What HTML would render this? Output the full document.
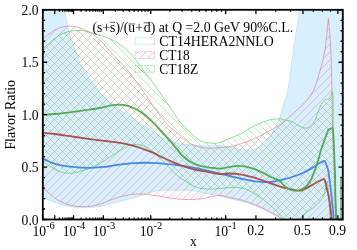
<!DOCTYPE html>
<html><head><meta charset="utf-8"><title>Flavor Ratio</title>
<style>
html,body{margin:0;padding:0;background:#fff;}
body{width:357px;height:250px;overflow:hidden;}
svg{display:block;}
text{font-family:"Liberation Serif",serif;fill:#000;}
</style></head><body>
<svg style="will-change:transform" width="357" height="250" viewBox="0 0 357 250">
<defs>
<filter id="nf" filterUnits="userSpaceOnUse" x="0" y="0" width="357" height="250"><feOffset dx="0" dy="0"/></filter>
<clipPath id="fr"><rect x="42.8" y="9.8" width="300" height="209.7"/></clipPath>
<pattern id="hp" width="8" height="8" patternUnits="userSpaceOnUse"><g fill="#f37f9b" fill-opacity="0.5" shape-rendering="crispEdges"><rect x="0" y="5" width="1" height="1"/><rect x="1" y="4" width="1" height="1"/><rect x="2" y="3" width="1" height="1"/><rect x="3" y="2" width="1" height="1"/><rect x="4" y="1" width="1" height="1"/><rect x="5" y="0" width="1" height="1"/><rect x="6" y="7" width="1" height="1"/><rect x="7" y="6" width="1" height="1"/></g></pattern>
<pattern id="hg" width="8" height="8" patternUnits="userSpaceOnUse"><g fill="#6bd971" fill-opacity="0.5" shape-rendering="crispEdges"><rect x="0" y="1" width="1" height="1"/><rect x="1" y="2" width="1" height="1"/><rect x="2" y="3" width="1" height="1"/><rect x="3" y="4" width="1" height="1"/><rect x="4" y="5" width="1" height="1"/><rect x="5" y="6" width="1" height="1"/><rect x="6" y="7" width="1" height="1"/><rect x="7" y="0" width="1" height="1"/></g></pattern>
<pattern id="hx" width="8" height="8" patternUnits="userSpaceOnUse"><g fill="#b8b08a" shape-rendering="crispEdges"><rect x="2" y="3" width="1" height="1"/><rect x="6" y="7" width="1" height="1"/></g></pattern>
<clipPath id="pc"><path d="M43.00,38.90 C44.18,37.95 47.80,34.85 50.10,33.20 C52.40,31.55 54.57,30.07 56.80,29.00 C59.03,27.93 61.40,27.27 63.50,26.80 C65.60,26.33 67.30,26.20 69.40,26.20 C71.50,26.20 73.72,26.25 76.10,26.80 C78.48,27.35 81.32,28.48 83.70,29.50 C86.08,30.52 87.68,31.15 90.40,32.90 C93.12,34.65 97.07,37.35 100.00,40.00 C102.93,42.65 105.50,46.03 108.00,48.80 C110.50,51.57 113.33,54.73 115.00,56.60 C116.67,58.47 115.92,57.77 118.00,60.00 C120.08,62.23 124.62,66.58 127.50,70.00 C130.38,73.42 133.08,77.50 135.30,80.50 C137.52,83.50 139.50,86.22 140.80,88.00 C142.10,89.78 141.73,89.23 143.10,91.20 C144.47,93.17 146.98,96.85 149.00,99.80 C151.02,102.75 153.03,105.93 155.20,108.90 C157.37,111.87 159.87,114.85 162.00,117.60 C164.13,120.35 165.60,122.98 168.00,125.40 C170.40,127.82 173.88,129.93 176.40,132.10 C178.92,134.27 181.00,136.65 183.10,138.40 C185.20,140.15 187.25,141.52 189.00,142.60 C190.75,143.68 191.43,144.10 193.60,144.90 C195.77,145.70 199.20,146.83 202.00,147.40 C204.80,147.97 207.40,148.27 210.40,148.30 C213.40,148.33 216.73,147.88 220.00,147.60 C223.27,147.32 226.63,147.18 230.00,146.60 C233.37,146.02 236.82,145.13 240.20,144.10 C243.58,143.07 247.22,141.67 250.30,140.40 C253.38,139.13 256.47,137.57 258.70,136.50 C260.93,135.43 261.48,135.17 263.70,134.00 C265.92,132.83 269.28,131.03 272.00,129.50 C274.72,127.97 277.83,126.30 280.00,124.80 C282.17,123.30 283.33,121.90 285.00,120.50 C286.67,119.10 287.77,118.35 290.00,116.40 C292.23,114.45 295.60,111.47 298.40,108.80 C301.20,106.13 304.42,103.20 306.80,100.40 C309.18,97.60 311.15,94.80 312.70,92.00 C314.25,89.20 314.70,87.80 316.10,83.60 C317.50,79.40 319.62,72.40 321.10,66.80 C322.58,61.20 324.02,55.80 325.00,50.00 C325.98,44.20 326.43,37.27 327.00,32.00 C327.57,26.73 328.17,20.67 328.40,18.40 L328.40,18.40 C328.63,21.00 329.40,28.73 329.80,34.00 C330.20,39.27 330.53,44.53 330.80,50.00 C331.07,55.47 331.20,59.80 331.40,66.80 C331.60,73.80 331.80,81.80 332.00,92.00 C332.20,102.20 332.40,118.33 332.60,128.00 C332.80,137.67 332.93,142.00 333.20,150.00 C333.47,158.00 333.93,167.67 334.20,176.00 C334.47,184.33 334.57,192.33 334.80,200.00 C335.03,207.67 335.47,218.33 335.60,222.00 L285.00,222.00 C284.17,221.23 282.43,219.05 280.00,217.40 C277.57,215.75 273.68,213.82 270.40,212.10 C267.12,210.38 263.65,208.63 260.30,207.10 C256.95,205.57 253.65,204.13 250.30,202.90 C246.95,201.67 243.58,200.60 240.20,199.70 C236.82,198.80 233.37,198.20 230.00,197.50 C226.63,196.80 223.27,195.58 220.00,195.50 C216.73,195.42 213.40,196.47 210.40,197.00 C207.40,197.53 204.80,198.28 202.00,198.70 C199.20,199.12 196.40,199.37 193.60,199.50 C190.80,199.63 188.00,199.58 185.20,199.50 C182.40,199.42 179.60,199.28 176.80,199.00 C174.00,198.72 171.20,198.25 168.40,197.80 C165.60,197.35 162.43,196.70 160.00,196.30 C157.57,195.90 156.23,195.73 153.80,195.40 C151.37,195.07 148.77,194.50 145.40,194.30 C142.03,194.10 137.00,193.98 133.60,194.20 C130.20,194.42 127.80,195.00 125.00,195.60 C122.20,196.20 119.63,196.90 116.80,197.80 C113.97,198.70 110.80,199.93 108.00,201.00 C105.20,202.07 102.93,203.32 100.00,204.20 C97.07,205.08 93.40,205.90 90.40,206.30 C87.40,206.70 84.80,206.67 82.00,206.60 C79.20,206.53 76.43,206.42 73.60,205.90 C70.77,205.38 67.80,204.57 65.00,203.50 C62.20,202.43 59.30,201.08 56.80,199.50 C54.30,197.92 52.30,195.92 50.00,194.00 C47.70,192.08 44.17,189.00 43.00,188.00 Z"/></clipPath>
</defs>
<rect width="357" height="250" fill="#fff"/>
<g clip-path="url(#fr)">
<path d="M59.70,-20.00 C60.25,-17.00 62.13,-7.17 63.00,-2.00 C63.87,3.17 64.23,6.67 64.90,11.00 C65.57,15.33 66.15,19.83 67.00,24.00 C67.85,28.17 68.83,32.17 70.00,36.00 C71.17,39.83 72.77,43.67 74.00,47.00 C75.23,50.33 76.37,53.17 77.40,56.00 C78.43,58.83 78.93,61.33 80.20,64.00 C81.47,66.67 83.30,69.42 85.00,72.00 C86.70,74.58 88.23,76.58 90.40,79.50 C92.57,82.42 96.40,87.33 98.00,89.50 C99.60,91.67 98.33,90.67 100.00,92.50 C101.67,94.33 105.20,98.07 108.00,100.50 C110.80,102.93 113.97,105.02 116.80,107.10 C119.63,109.18 122.20,111.03 125.00,113.00 C127.80,114.97 130.77,116.98 133.60,118.90 C136.43,120.82 139.20,122.68 142.00,124.50 C144.80,126.32 147.40,127.80 150.40,129.80 C153.40,131.80 157.07,134.72 160.00,136.50 C162.93,138.28 165.20,139.43 168.00,140.50 C170.80,141.57 173.97,142.23 176.80,142.90 C179.63,143.57 182.20,144.08 185.00,144.50 C187.80,144.92 190.77,145.17 193.60,145.40 C196.43,145.63 199.20,145.78 202.00,145.90 C204.80,146.02 207.40,146.15 210.40,146.10 C213.40,146.05 216.73,145.38 220.00,145.60 C223.27,145.82 226.63,146.75 230.00,147.40 C233.37,148.05 236.82,149.07 240.20,149.50 C243.58,149.93 247.50,150.20 250.30,150.00 C253.10,149.80 254.77,149.28 257.00,148.30 C259.23,147.32 261.75,145.78 263.70,144.10 C265.65,142.42 267.23,140.05 268.70,138.20 C270.17,136.35 271.28,135.03 272.50,133.00 C273.72,130.97 274.75,128.63 276.00,126.00 C277.25,123.37 278.67,121.03 280.00,117.20 C281.33,113.37 282.75,107.20 284.00,103.00 C285.25,98.80 286.42,97.17 287.50,92.00 C288.58,86.83 289.52,79.00 290.50,72.00 C291.48,65.00 292.40,57.00 293.40,50.00 C294.40,43.00 295.43,36.58 296.50,30.00 C297.57,23.42 298.88,16.33 299.80,10.50 C300.72,4.67 301.30,0.08 302.00,-5.00 C302.70,-10.08 303.67,-17.50 304.00,-20.00 L343,-20 L343,230 L285,230 L285.00,222.00 C284.17,221.37 282.43,219.73 280.00,218.20 C277.57,216.67 273.68,214.53 270.40,212.80 C267.12,211.07 263.65,209.28 260.30,207.80 C256.95,206.32 253.65,205.00 250.30,203.90 C246.95,202.80 243.58,202.07 240.20,201.20 C236.82,200.33 233.37,199.60 230.00,198.70 C226.63,197.80 223.27,196.55 220.00,195.80 C216.73,195.05 213.40,194.75 210.40,194.20 C207.40,193.65 204.80,193.07 202.00,192.50 C199.20,191.93 196.40,191.17 193.60,190.80 C190.80,190.43 188.00,190.42 185.20,190.30 C182.40,190.18 179.60,190.15 176.80,190.10 C174.00,190.05 171.20,189.98 168.40,190.00 C165.60,190.02 163.00,189.77 160.00,190.20 C157.00,190.63 153.12,191.88 150.40,192.60 C147.68,193.32 146.50,193.63 143.70,194.50 C140.90,195.37 136.72,196.90 133.60,197.80 C130.48,198.70 127.80,199.20 125.00,199.90 C122.20,200.60 119.63,201.25 116.80,202.00 C113.97,202.75 110.80,203.68 108.00,204.40 C105.20,205.12 102.93,205.77 100.00,206.30 C97.07,206.83 93.40,207.38 90.40,207.60 C87.40,207.82 84.80,207.70 82.00,207.60 C79.20,207.50 76.43,207.37 73.60,207.00 C70.77,206.63 67.80,206.08 65.00,205.40 C62.20,204.72 59.30,203.73 56.80,202.90 C54.30,202.07 52.30,201.30 50.00,200.40 C47.70,199.50 44.17,197.98 43.00,197.50 L43,-20 Z" fill="#d6f0fd" stroke="#bfe6f8" stroke-width="1"/>
<path d="M43.00,38.90 C44.18,37.95 47.80,34.85 50.10,33.20 C52.40,31.55 54.57,30.07 56.80,29.00 C59.03,27.93 61.40,27.27 63.50,26.80 C65.60,26.33 67.30,26.20 69.40,26.20 C71.50,26.20 73.72,26.25 76.10,26.80 C78.48,27.35 81.32,28.48 83.70,29.50 C86.08,30.52 87.68,31.15 90.40,32.90 C93.12,34.65 97.07,37.35 100.00,40.00 C102.93,42.65 105.50,46.03 108.00,48.80 C110.50,51.57 113.33,54.73 115.00,56.60 C116.67,58.47 115.92,57.77 118.00,60.00 C120.08,62.23 124.62,66.58 127.50,70.00 C130.38,73.42 133.08,77.50 135.30,80.50 C137.52,83.50 139.50,86.22 140.80,88.00 C142.10,89.78 141.73,89.23 143.10,91.20 C144.47,93.17 146.98,96.85 149.00,99.80 C151.02,102.75 153.03,105.93 155.20,108.90 C157.37,111.87 159.87,114.85 162.00,117.60 C164.13,120.35 165.60,122.98 168.00,125.40 C170.40,127.82 173.88,129.93 176.40,132.10 C178.92,134.27 181.00,136.65 183.10,138.40 C185.20,140.15 187.25,141.52 189.00,142.60 C190.75,143.68 191.43,144.10 193.60,144.90 C195.77,145.70 199.20,146.83 202.00,147.40 C204.80,147.97 207.40,148.27 210.40,148.30 C213.40,148.33 216.73,147.88 220.00,147.60 C223.27,147.32 226.63,147.18 230.00,146.60 C233.37,146.02 236.82,145.13 240.20,144.10 C243.58,143.07 247.22,141.67 250.30,140.40 C253.38,139.13 256.47,137.57 258.70,136.50 C260.93,135.43 261.48,135.17 263.70,134.00 C265.92,132.83 269.28,131.03 272.00,129.50 C274.72,127.97 277.83,126.30 280.00,124.80 C282.17,123.30 283.33,121.90 285.00,120.50 C286.67,119.10 287.77,118.35 290.00,116.40 C292.23,114.45 295.60,111.47 298.40,108.80 C301.20,106.13 304.42,103.20 306.80,100.40 C309.18,97.60 311.15,94.80 312.70,92.00 C314.25,89.20 314.70,87.80 316.10,83.60 C317.50,79.40 319.62,72.40 321.10,66.80 C322.58,61.20 324.02,55.80 325.00,50.00 C325.98,44.20 326.43,37.27 327.00,32.00 C327.57,26.73 328.17,20.67 328.40,18.40 L328.40,18.40 C328.63,21.00 329.40,28.73 329.80,34.00 C330.20,39.27 330.53,44.53 330.80,50.00 C331.07,55.47 331.20,59.80 331.40,66.80 C331.60,73.80 331.80,81.80 332.00,92.00 C332.20,102.20 332.40,118.33 332.60,128.00 C332.80,137.67 332.93,142.00 333.20,150.00 C333.47,158.00 333.93,167.67 334.20,176.00 C334.47,184.33 334.57,192.33 334.80,200.00 C335.03,207.67 335.47,218.33 335.60,222.00 L285.00,222.00 C284.17,221.23 282.43,219.05 280.00,217.40 C277.57,215.75 273.68,213.82 270.40,212.10 C267.12,210.38 263.65,208.63 260.30,207.10 C256.95,205.57 253.65,204.13 250.30,202.90 C246.95,201.67 243.58,200.60 240.20,199.70 C236.82,198.80 233.37,198.20 230.00,197.50 C226.63,196.80 223.27,195.58 220.00,195.50 C216.73,195.42 213.40,196.47 210.40,197.00 C207.40,197.53 204.80,198.28 202.00,198.70 C199.20,199.12 196.40,199.37 193.60,199.50 C190.80,199.63 188.00,199.58 185.20,199.50 C182.40,199.42 179.60,199.28 176.80,199.00 C174.00,198.72 171.20,198.25 168.40,197.80 C165.60,197.35 162.43,196.70 160.00,196.30 C157.57,195.90 156.23,195.73 153.80,195.40 C151.37,195.07 148.77,194.50 145.40,194.30 C142.03,194.10 137.00,193.98 133.60,194.20 C130.20,194.42 127.80,195.00 125.00,195.60 C122.20,196.20 119.63,196.90 116.80,197.80 C113.97,198.70 110.80,199.93 108.00,201.00 C105.20,202.07 102.93,203.32 100.00,204.20 C97.07,205.08 93.40,205.90 90.40,206.30 C87.40,206.70 84.80,206.67 82.00,206.60 C79.20,206.53 76.43,206.42 73.60,205.90 C70.77,205.38 67.80,204.57 65.00,203.50 C62.20,202.43 59.30,201.08 56.80,199.50 C54.30,197.92 52.30,195.92 50.00,194.00 C47.70,192.08 44.17,189.00 43.00,188.00 Z" fill="url(#hp)"/>
<path d="M43.00,38.90 C44.18,37.95 47.80,34.85 50.10,33.20 C52.40,31.55 54.57,30.07 56.80,29.00 C59.03,27.93 61.40,27.27 63.50,26.80 C65.60,26.33 67.30,26.20 69.40,26.20 C71.50,26.20 73.72,26.25 76.10,26.80 C78.48,27.35 81.32,28.48 83.70,29.50 C86.08,30.52 87.68,31.15 90.40,32.90 C93.12,34.65 97.07,37.35 100.00,40.00 C102.93,42.65 105.50,46.03 108.00,48.80 C110.50,51.57 113.33,54.73 115.00,56.60 C116.67,58.47 115.92,57.77 118.00,60.00 C120.08,62.23 124.62,66.58 127.50,70.00 C130.38,73.42 133.08,77.50 135.30,80.50 C137.52,83.50 139.50,86.22 140.80,88.00 C142.10,89.78 141.73,89.23 143.10,91.20 C144.47,93.17 146.98,96.85 149.00,99.80 C151.02,102.75 153.03,105.93 155.20,108.90 C157.37,111.87 159.87,114.85 162.00,117.60 C164.13,120.35 165.60,122.98 168.00,125.40 C170.40,127.82 173.88,129.93 176.40,132.10 C178.92,134.27 181.00,136.65 183.10,138.40 C185.20,140.15 187.25,141.52 189.00,142.60 C190.75,143.68 191.43,144.10 193.60,144.90 C195.77,145.70 199.20,146.83 202.00,147.40 C204.80,147.97 207.40,148.27 210.40,148.30 C213.40,148.33 216.73,147.88 220.00,147.60 C223.27,147.32 226.63,147.18 230.00,146.60 C233.37,146.02 236.82,145.13 240.20,144.10 C243.58,143.07 247.22,141.67 250.30,140.40 C253.38,139.13 256.47,137.57 258.70,136.50 C260.93,135.43 261.48,135.17 263.70,134.00 C265.92,132.83 269.28,131.03 272.00,129.50 C274.72,127.97 277.83,126.30 280.00,124.80 C282.17,123.30 283.33,121.90 285.00,120.50 C286.67,119.10 287.77,118.35 290.00,116.40 C292.23,114.45 295.60,111.47 298.40,108.80 C301.20,106.13 304.42,103.20 306.80,100.40 C309.18,97.60 311.15,94.80 312.70,92.00 C314.25,89.20 314.70,87.80 316.10,83.60 C317.50,79.40 319.62,72.40 321.10,66.80 C322.58,61.20 324.02,55.80 325.00,50.00 C325.98,44.20 326.43,37.27 327.00,32.00 C327.57,26.73 328.17,20.67 328.40,18.40 L328.40,18.40 C328.63,21.00 329.40,28.73 329.80,34.00 C330.20,39.27 330.53,44.53 330.80,50.00 C331.07,55.47 331.20,59.80 331.40,66.80 C331.60,73.80 331.80,81.80 332.00,92.00 C332.20,102.20 332.40,118.33 332.60,128.00 C332.80,137.67 332.93,142.00 333.20,150.00 C333.47,158.00 333.93,167.67 334.20,176.00 C334.47,184.33 334.57,192.33 334.80,200.00 C335.03,207.67 335.47,218.33 335.60,222.00 L285.00,222.00 C284.17,221.23 282.43,219.05 280.00,217.40 C277.57,215.75 273.68,213.82 270.40,212.10 C267.12,210.38 263.65,208.63 260.30,207.10 C256.95,205.57 253.65,204.13 250.30,202.90 C246.95,201.67 243.58,200.60 240.20,199.70 C236.82,198.80 233.37,198.20 230.00,197.50 C226.63,196.80 223.27,195.58 220.00,195.50 C216.73,195.42 213.40,196.47 210.40,197.00 C207.40,197.53 204.80,198.28 202.00,198.70 C199.20,199.12 196.40,199.37 193.60,199.50 C190.80,199.63 188.00,199.58 185.20,199.50 C182.40,199.42 179.60,199.28 176.80,199.00 C174.00,198.72 171.20,198.25 168.40,197.80 C165.60,197.35 162.43,196.70 160.00,196.30 C157.57,195.90 156.23,195.73 153.80,195.40 C151.37,195.07 148.77,194.50 145.40,194.30 C142.03,194.10 137.00,193.98 133.60,194.20 C130.20,194.42 127.80,195.00 125.00,195.60 C122.20,196.20 119.63,196.90 116.80,197.80 C113.97,198.70 110.80,199.93 108.00,201.00 C105.20,202.07 102.93,203.32 100.00,204.20 C97.07,205.08 93.40,205.90 90.40,206.30 C87.40,206.70 84.80,206.67 82.00,206.60 C79.20,206.53 76.43,206.42 73.60,205.90 C70.77,205.38 67.80,204.57 65.00,203.50 C62.20,202.43 59.30,201.08 56.80,199.50 C54.30,197.92 52.30,195.92 50.00,194.00 C47.70,192.08 44.17,189.00 43.00,188.00 Z" fill="none" stroke="#ed6185" stroke-opacity="0.6" stroke-width="0.95"/>
<path d="M43.00,49.00 C44.18,47.92 47.80,44.52 50.10,42.50 C52.40,40.48 54.57,38.45 56.80,36.90 C59.03,35.35 61.25,34.15 63.50,33.20 C65.75,32.25 67.92,31.67 70.30,31.20 C72.68,30.73 75.28,30.43 77.80,30.40 C80.32,30.37 83.02,30.58 85.40,31.00 C87.78,31.42 89.67,32.20 92.10,32.90 C94.53,33.60 97.68,34.47 100.00,35.20 C102.32,35.93 103.97,36.50 106.00,37.30 C108.03,38.10 110.37,39.12 112.20,40.00 C114.03,40.88 115.50,41.70 117.00,42.60 C118.50,43.50 119.87,44.45 121.20,45.40 C122.53,46.35 123.87,47.33 125.00,48.30 C126.13,49.27 126.67,49.83 128.00,51.20 C129.33,52.57 131.33,54.60 133.00,56.50 C134.67,58.40 136.32,60.35 138.00,62.60 C139.68,64.85 141.27,67.53 143.10,70.00 C144.93,72.47 146.93,74.73 149.00,77.40 C151.07,80.07 153.17,82.73 155.50,86.00 C157.83,89.27 160.85,93.83 163.00,97.00 C165.15,100.17 166.40,102.08 168.40,105.00 C170.40,107.92 173.10,111.67 175.00,114.50 C176.90,117.33 177.75,119.48 179.80,122.00 C181.85,124.52 185.07,127.37 187.30,129.60 C189.53,131.83 191.42,133.80 193.20,135.40 C194.98,137.00 195.97,138.03 198.00,139.20 C200.03,140.37 202.77,141.73 205.40,142.40 C208.03,143.07 211.37,143.20 213.80,143.20 C216.23,143.20 217.30,143.23 220.00,142.40 C222.70,141.57 226.63,139.60 230.00,138.20 C233.37,136.80 236.82,135.68 240.20,134.00 C243.58,132.32 246.95,129.92 250.30,128.10 C253.65,126.28 256.95,124.50 260.30,123.10 C263.65,121.70 267.12,120.40 270.40,119.70 C273.68,119.00 277.57,118.82 280.00,118.90 C282.43,118.98 283.05,119.78 285.00,120.20 C286.95,120.62 289.47,120.50 291.70,121.40 C293.93,122.30 296.15,124.48 298.40,125.60 C300.65,126.72 303.23,127.95 305.20,128.10 C307.17,128.25 308.52,127.90 310.20,126.50 C311.88,125.10 313.90,122.37 315.30,119.70 C316.70,117.03 317.48,113.30 318.60,110.50 C319.72,107.70 320.88,104.72 322.00,102.90 C323.12,101.08 324.13,100.23 325.30,99.60 C326.47,98.97 328.10,99.80 329.00,99.10 C329.90,98.40 330.18,96.55 330.70,95.40 C331.22,94.25 331.87,92.73 332.10,92.20 L332.10,92.20 C332.25,92.83 332.82,93.03 333.00,96.00 C333.18,98.97 333.17,104.67 333.20,110.00 C333.23,115.33 333.17,124.00 333.20,128.00 C333.23,132.00 333.25,130.20 333.40,134.00 C333.55,137.80 333.82,143.80 334.10,150.80 C334.38,157.80 334.90,168.97 335.10,176.00 C335.30,183.03 335.08,185.33 335.30,193.00 C335.52,200.67 336.22,217.17 336.40,222.00 L330.30,222.00 C330.28,221.33 330.38,220.83 330.20,218.00 C330.02,215.17 329.50,209.17 329.20,205.00 C328.90,200.83 328.63,196.33 328.40,193.00 C328.17,189.67 328.03,187.00 327.80,185.00 C327.57,183.00 327.13,181.67 327.00,181.00 L327.00,181.00 C326.83,181.85 326.42,184.10 326.00,186.10 C325.58,188.10 325.20,190.92 324.50,193.00 C323.80,195.08 323.18,196.55 321.80,198.60 C320.42,200.65 317.83,203.65 316.20,205.30 C314.57,206.95 313.57,207.37 312.00,208.50 C310.43,209.63 308.50,210.60 306.80,212.10 C305.10,213.60 303.27,215.85 301.80,217.50 C300.33,219.15 298.63,221.25 298.00,222.00 L286.00,222.00 C285.00,220.78 282.03,216.90 280.00,214.70 C277.97,212.50 276.23,211.05 273.80,208.80 C271.37,206.55 268.20,203.45 265.40,201.20 C262.60,198.95 259.80,197.12 257.00,195.30 C254.20,193.48 251.40,191.55 248.60,190.30 C245.80,189.05 243.30,188.28 240.20,187.80 C237.10,187.32 233.37,187.27 230.00,187.40 C226.63,187.53 223.27,188.32 220.00,188.60 C216.73,188.88 213.40,189.10 210.40,189.10 C207.40,189.10 204.80,189.10 202.00,188.60 C199.20,188.10 196.40,187.37 193.60,186.10 C190.80,184.83 187.72,182.60 185.20,181.00 C182.68,179.40 180.17,177.73 178.50,176.50 C176.83,175.27 176.58,174.92 175.20,173.60 C173.82,172.28 172.17,170.57 170.20,168.60 C168.23,166.63 165.60,164.07 163.40,161.80 C161.20,159.53 159.17,157.03 157.00,155.00 C154.83,152.97 152.73,151.13 150.40,149.60 C148.07,148.07 145.23,146.67 143.00,145.80 C140.77,144.93 139.40,144.40 137.00,144.40 C134.60,144.40 131.97,144.45 128.60,145.80 C125.23,147.15 120.67,150.12 116.80,152.50 C112.93,154.88 109.27,157.72 105.40,160.10 C101.53,162.48 97.53,164.98 93.60,166.80 C89.67,168.62 85.73,169.93 81.80,171.00 C77.87,172.07 73.63,173.07 70.00,173.20 C66.37,173.33 63.33,172.92 60.00,171.80 C56.67,170.68 52.83,168.30 50.00,166.50 C47.17,164.70 44.17,161.92 43.00,161.00 Z" fill="url(#hg)"/>
<path d="M43.00,49.00 C44.18,47.92 47.80,44.52 50.10,42.50 C52.40,40.48 54.57,38.45 56.80,36.90 C59.03,35.35 61.25,34.15 63.50,33.20 C65.75,32.25 67.92,31.67 70.30,31.20 C72.68,30.73 75.28,30.43 77.80,30.40 C80.32,30.37 83.02,30.58 85.40,31.00 C87.78,31.42 89.67,32.20 92.10,32.90 C94.53,33.60 97.68,34.47 100.00,35.20 C102.32,35.93 103.97,36.50 106.00,37.30 C108.03,38.10 110.37,39.12 112.20,40.00 C114.03,40.88 115.50,41.70 117.00,42.60 C118.50,43.50 119.87,44.45 121.20,45.40 C122.53,46.35 123.87,47.33 125.00,48.30 C126.13,49.27 126.67,49.83 128.00,51.20 C129.33,52.57 131.33,54.60 133.00,56.50 C134.67,58.40 136.32,60.35 138.00,62.60 C139.68,64.85 141.27,67.53 143.10,70.00 C144.93,72.47 146.93,74.73 149.00,77.40 C151.07,80.07 153.17,82.73 155.50,86.00 C157.83,89.27 160.85,93.83 163.00,97.00 C165.15,100.17 166.40,102.08 168.40,105.00 C170.40,107.92 173.10,111.67 175.00,114.50 C176.90,117.33 177.75,119.48 179.80,122.00 C181.85,124.52 185.07,127.37 187.30,129.60 C189.53,131.83 191.42,133.80 193.20,135.40 C194.98,137.00 195.97,138.03 198.00,139.20 C200.03,140.37 202.77,141.73 205.40,142.40 C208.03,143.07 211.37,143.20 213.80,143.20 C216.23,143.20 217.30,143.23 220.00,142.40 C222.70,141.57 226.63,139.60 230.00,138.20 C233.37,136.80 236.82,135.68 240.20,134.00 C243.58,132.32 246.95,129.92 250.30,128.10 C253.65,126.28 256.95,124.50 260.30,123.10 C263.65,121.70 267.12,120.40 270.40,119.70 C273.68,119.00 277.57,118.82 280.00,118.90 C282.43,118.98 283.05,119.78 285.00,120.20 C286.95,120.62 289.47,120.50 291.70,121.40 C293.93,122.30 296.15,124.48 298.40,125.60 C300.65,126.72 303.23,127.95 305.20,128.10 C307.17,128.25 308.52,127.90 310.20,126.50 C311.88,125.10 313.90,122.37 315.30,119.70 C316.70,117.03 317.48,113.30 318.60,110.50 C319.72,107.70 320.88,104.72 322.00,102.90 C323.12,101.08 324.13,100.23 325.30,99.60 C326.47,98.97 328.10,99.80 329.00,99.10 C329.90,98.40 330.18,96.55 330.70,95.40 C331.22,94.25 331.87,92.73 332.10,92.20 L332.10,92.20 C332.25,92.83 332.82,93.03 333.00,96.00 C333.18,98.97 333.17,104.67 333.20,110.00 C333.23,115.33 333.17,124.00 333.20,128.00 C333.23,132.00 333.25,130.20 333.40,134.00 C333.55,137.80 333.82,143.80 334.10,150.80 C334.38,157.80 334.90,168.97 335.10,176.00 C335.30,183.03 335.08,185.33 335.30,193.00 C335.52,200.67 336.22,217.17 336.40,222.00 L330.30,222.00 C330.28,221.33 330.38,220.83 330.20,218.00 C330.02,215.17 329.50,209.17 329.20,205.00 C328.90,200.83 328.63,196.33 328.40,193.00 C328.17,189.67 328.03,187.00 327.80,185.00 C327.57,183.00 327.13,181.67 327.00,181.00 L327.00,181.00 C326.83,181.85 326.42,184.10 326.00,186.10 C325.58,188.10 325.20,190.92 324.50,193.00 C323.80,195.08 323.18,196.55 321.80,198.60 C320.42,200.65 317.83,203.65 316.20,205.30 C314.57,206.95 313.57,207.37 312.00,208.50 C310.43,209.63 308.50,210.60 306.80,212.10 C305.10,213.60 303.27,215.85 301.80,217.50 C300.33,219.15 298.63,221.25 298.00,222.00 L286.00,222.00 C285.00,220.78 282.03,216.90 280.00,214.70 C277.97,212.50 276.23,211.05 273.80,208.80 C271.37,206.55 268.20,203.45 265.40,201.20 C262.60,198.95 259.80,197.12 257.00,195.30 C254.20,193.48 251.40,191.55 248.60,190.30 C245.80,189.05 243.30,188.28 240.20,187.80 C237.10,187.32 233.37,187.27 230.00,187.40 C226.63,187.53 223.27,188.32 220.00,188.60 C216.73,188.88 213.40,189.10 210.40,189.10 C207.40,189.10 204.80,189.10 202.00,188.60 C199.20,188.10 196.40,187.37 193.60,186.10 C190.80,184.83 187.72,182.60 185.20,181.00 C182.68,179.40 180.17,177.73 178.50,176.50 C176.83,175.27 176.58,174.92 175.20,173.60 C173.82,172.28 172.17,170.57 170.20,168.60 C168.23,166.63 165.60,164.07 163.40,161.80 C161.20,159.53 159.17,157.03 157.00,155.00 C154.83,152.97 152.73,151.13 150.40,149.60 C148.07,148.07 145.23,146.67 143.00,145.80 C140.77,144.93 139.40,144.40 137.00,144.40 C134.60,144.40 131.97,144.45 128.60,145.80 C125.23,147.15 120.67,150.12 116.80,152.50 C112.93,154.88 109.27,157.72 105.40,160.10 C101.53,162.48 97.53,164.98 93.60,166.80 C89.67,168.62 85.73,169.93 81.80,171.00 C77.87,172.07 73.63,173.07 70.00,173.20 C66.37,173.33 63.33,172.92 60.00,171.80 C56.67,170.68 52.83,168.30 50.00,166.50 C47.17,164.70 44.17,161.92 43.00,161.00 Z" fill="none" stroke="#3fc543" stroke-opacity="0.6" stroke-width="0.95"/>
<g clip-path="url(#pc)"><path d="M43.00,49.00 C44.18,47.92 47.80,44.52 50.10,42.50 C52.40,40.48 54.57,38.45 56.80,36.90 C59.03,35.35 61.25,34.15 63.50,33.20 C65.75,32.25 67.92,31.67 70.30,31.20 C72.68,30.73 75.28,30.43 77.80,30.40 C80.32,30.37 83.02,30.58 85.40,31.00 C87.78,31.42 89.67,32.20 92.10,32.90 C94.53,33.60 97.68,34.47 100.00,35.20 C102.32,35.93 103.97,36.50 106.00,37.30 C108.03,38.10 110.37,39.12 112.20,40.00 C114.03,40.88 115.50,41.70 117.00,42.60 C118.50,43.50 119.87,44.45 121.20,45.40 C122.53,46.35 123.87,47.33 125.00,48.30 C126.13,49.27 126.67,49.83 128.00,51.20 C129.33,52.57 131.33,54.60 133.00,56.50 C134.67,58.40 136.32,60.35 138.00,62.60 C139.68,64.85 141.27,67.53 143.10,70.00 C144.93,72.47 146.93,74.73 149.00,77.40 C151.07,80.07 153.17,82.73 155.50,86.00 C157.83,89.27 160.85,93.83 163.00,97.00 C165.15,100.17 166.40,102.08 168.40,105.00 C170.40,107.92 173.10,111.67 175.00,114.50 C176.90,117.33 177.75,119.48 179.80,122.00 C181.85,124.52 185.07,127.37 187.30,129.60 C189.53,131.83 191.42,133.80 193.20,135.40 C194.98,137.00 195.97,138.03 198.00,139.20 C200.03,140.37 202.77,141.73 205.40,142.40 C208.03,143.07 211.37,143.20 213.80,143.20 C216.23,143.20 217.30,143.23 220.00,142.40 C222.70,141.57 226.63,139.60 230.00,138.20 C233.37,136.80 236.82,135.68 240.20,134.00 C243.58,132.32 246.95,129.92 250.30,128.10 C253.65,126.28 256.95,124.50 260.30,123.10 C263.65,121.70 267.12,120.40 270.40,119.70 C273.68,119.00 277.57,118.82 280.00,118.90 C282.43,118.98 283.05,119.78 285.00,120.20 C286.95,120.62 289.47,120.50 291.70,121.40 C293.93,122.30 296.15,124.48 298.40,125.60 C300.65,126.72 303.23,127.95 305.20,128.10 C307.17,128.25 308.52,127.90 310.20,126.50 C311.88,125.10 313.90,122.37 315.30,119.70 C316.70,117.03 317.48,113.30 318.60,110.50 C319.72,107.70 320.88,104.72 322.00,102.90 C323.12,101.08 324.13,100.23 325.30,99.60 C326.47,98.97 328.10,99.80 329.00,99.10 C329.90,98.40 330.18,96.55 330.70,95.40 C331.22,94.25 331.87,92.73 332.10,92.20 L332.10,92.20 C332.25,92.83 332.82,93.03 333.00,96.00 C333.18,98.97 333.17,104.67 333.20,110.00 C333.23,115.33 333.17,124.00 333.20,128.00 C333.23,132.00 333.25,130.20 333.40,134.00 C333.55,137.80 333.82,143.80 334.10,150.80 C334.38,157.80 334.90,168.97 335.10,176.00 C335.30,183.03 335.08,185.33 335.30,193.00 C335.52,200.67 336.22,217.17 336.40,222.00 L330.30,222.00 C330.28,221.33 330.38,220.83 330.20,218.00 C330.02,215.17 329.50,209.17 329.20,205.00 C328.90,200.83 328.63,196.33 328.40,193.00 C328.17,189.67 328.03,187.00 327.80,185.00 C327.57,183.00 327.13,181.67 327.00,181.00 L327.00,181.00 C326.83,181.85 326.42,184.10 326.00,186.10 C325.58,188.10 325.20,190.92 324.50,193.00 C323.80,195.08 323.18,196.55 321.80,198.60 C320.42,200.65 317.83,203.65 316.20,205.30 C314.57,206.95 313.57,207.37 312.00,208.50 C310.43,209.63 308.50,210.60 306.80,212.10 C305.10,213.60 303.27,215.85 301.80,217.50 C300.33,219.15 298.63,221.25 298.00,222.00 L286.00,222.00 C285.00,220.78 282.03,216.90 280.00,214.70 C277.97,212.50 276.23,211.05 273.80,208.80 C271.37,206.55 268.20,203.45 265.40,201.20 C262.60,198.95 259.80,197.12 257.00,195.30 C254.20,193.48 251.40,191.55 248.60,190.30 C245.80,189.05 243.30,188.28 240.20,187.80 C237.10,187.32 233.37,187.27 230.00,187.40 C226.63,187.53 223.27,188.32 220.00,188.60 C216.73,188.88 213.40,189.10 210.40,189.10 C207.40,189.10 204.80,189.10 202.00,188.60 C199.20,188.10 196.40,187.37 193.60,186.10 C190.80,184.83 187.72,182.60 185.20,181.00 C182.68,179.40 180.17,177.73 178.50,176.50 C176.83,175.27 176.58,174.92 175.20,173.60 C173.82,172.28 172.17,170.57 170.20,168.60 C168.23,166.63 165.60,164.07 163.40,161.80 C161.20,159.53 159.17,157.03 157.00,155.00 C154.83,152.97 152.73,151.13 150.40,149.60 C148.07,148.07 145.23,146.67 143.00,145.80 C140.77,144.93 139.40,144.40 137.00,144.40 C134.60,144.40 131.97,144.45 128.60,145.80 C125.23,147.15 120.67,150.12 116.80,152.50 C112.93,154.88 109.27,157.72 105.40,160.10 C101.53,162.48 97.53,164.98 93.60,166.80 C89.67,168.62 85.73,169.93 81.80,171.00 C77.87,172.07 73.63,173.07 70.00,173.20 C66.37,173.33 63.33,172.92 60.00,171.80 C56.67,170.68 52.83,168.30 50.00,166.50 C47.17,164.70 44.17,161.92 43.00,161.00 Z" fill="url(#hx)"/></g>
<g fill="none" stroke-linejoin="round" stroke-linecap="round">
<path d="M43.00,158.70 C44.17,159.25 47.17,160.93 50.00,162.00 C52.83,163.07 55.53,164.20 60.00,165.10 C64.47,166.00 71.75,166.95 76.80,167.40 C81.85,167.85 85.53,167.88 90.30,167.80 C95.07,167.72 100.98,167.38 105.40,166.90 C109.82,166.42 112.10,165.53 116.80,164.90 C121.50,164.27 128.00,163.45 133.60,163.10 C139.20,162.75 146.00,162.75 150.40,162.80 C154.80,162.85 155.60,163.02 160.00,163.40 C164.40,163.78 171.20,164.40 176.80,165.10 C182.40,165.80 188.00,166.57 193.60,167.60 C199.20,168.63 206.00,170.30 210.40,171.30 C214.80,172.30 216.73,172.82 220.00,173.60 C223.27,174.38 226.63,175.18 230.00,176.00 C233.37,176.82 236.82,177.72 240.20,178.50 C243.58,179.28 246.95,180.13 250.30,180.70 C253.65,181.27 256.95,181.70 260.30,181.90 C263.65,182.10 267.12,182.18 270.40,181.90 C273.68,181.62 277.57,180.68 280.00,180.20 C282.43,179.72 282.20,179.78 285.00,179.00 C287.80,178.22 293.43,176.70 296.80,175.50 C300.17,174.30 302.12,173.40 305.20,171.80 C308.28,170.20 312.67,167.48 315.30,165.90 C317.93,164.32 319.50,163.12 321.00,162.30 C322.50,161.48 323.53,160.92 324.30,161.00 C325.07,161.08 325.00,161.47 325.60,162.80 C326.20,164.13 327.33,166.80 327.90,169.00 C328.47,171.20 328.45,172.03 329.00,176.00 C329.55,179.97 330.55,187.20 331.20,192.80 C331.85,198.40 332.45,204.73 332.90,209.60 C333.35,214.47 333.73,219.93 333.90,222.00" stroke="#4a88e4" stroke-width="1.8"/>
<path d="M43.00,132.60 C45.00,132.83 50.50,133.40 55.00,134.00 C59.50,134.60 65.00,135.47 70.00,136.20 C75.00,136.93 80.00,137.70 85.00,138.40 C90.00,139.10 94.70,139.73 100.00,140.40 C105.30,141.07 111.20,141.50 116.80,142.40 C122.40,143.30 128.00,144.27 133.60,145.80 C139.20,147.33 146.00,149.87 150.40,151.60 C154.80,153.33 156.73,154.65 160.00,156.20 C163.27,157.75 166.63,159.42 170.00,160.90 C173.37,162.38 176.27,163.70 180.20,165.10 C184.13,166.50 189.13,168.18 193.60,169.30 C198.07,170.42 202.60,171.02 207.00,171.80 C211.40,172.58 216.17,173.72 220.00,174.00 C223.83,174.28 226.67,173.45 230.00,173.50 C233.33,173.55 236.90,173.85 240.00,174.30 C243.10,174.75 245.48,175.42 248.60,176.20 C251.72,176.98 255.35,177.92 258.70,179.00 C262.05,180.08 265.15,181.43 268.70,182.70 C272.25,183.97 277.28,185.73 280.00,186.60 C282.72,187.47 282.50,187.32 285.00,187.90 C287.50,188.48 292.20,189.70 295.00,190.10 C297.80,190.50 299.27,190.97 301.80,190.30 C304.33,189.63 307.40,187.60 310.20,186.10 C313.00,184.60 316.55,182.40 318.60,181.30 C320.65,180.20 321.55,179.83 322.50,179.50 C323.45,179.17 323.85,178.97 324.30,179.30 C324.75,179.63 324.75,179.88 325.20,181.50 C325.65,183.12 326.28,185.72 327.00,189.00 C327.72,192.28 328.67,195.70 329.50,201.20 C330.33,206.70 331.58,218.53 332.00,222.00" stroke="#a85252" stroke-width="1.8"/>
<path d="M43.00,114.90 C45.00,114.75 50.50,114.43 55.00,114.00 C59.50,113.57 65.00,112.93 70.00,112.30 C75.00,111.67 80.00,110.92 85.00,110.20 C90.00,109.48 95.83,108.75 100.00,108.00 C104.17,107.25 106.92,106.27 110.00,105.70 C113.08,105.13 115.83,104.67 118.50,104.60 C121.17,104.53 123.48,104.73 126.00,105.30 C128.52,105.87 131.27,106.97 133.60,108.00 C135.93,109.03 138.03,110.25 140.00,111.50 C141.97,112.75 143.10,113.57 145.40,115.50 C147.70,117.43 151.37,120.72 153.80,123.10 C156.23,125.48 158.13,127.73 160.00,129.80 C161.87,131.87 162.77,132.98 165.00,135.50 C167.23,138.02 170.60,141.65 173.40,144.90 C176.20,148.15 178.98,152.20 181.80,155.00 C184.62,157.80 187.22,159.88 190.30,161.70 C193.38,163.52 196.95,164.92 200.30,165.90 C203.65,166.88 207.12,167.15 210.40,167.60 C213.68,168.05 216.73,168.73 220.00,168.60 C223.27,168.47 226.92,167.25 230.00,166.80 C233.08,166.35 235.67,165.90 238.50,165.90 C241.33,165.90 244.20,166.23 247.00,166.80 C249.80,167.37 252.52,168.27 255.30,169.30 C258.08,170.33 261.47,171.88 263.70,173.00 C265.93,174.12 266.73,175.03 268.70,176.00 C270.67,176.97 273.62,177.97 275.50,178.80 C277.38,179.63 278.42,179.72 280.00,181.00 C281.58,182.28 283.05,184.98 285.00,186.50 C286.95,188.02 289.47,189.47 291.70,190.10 C293.93,190.73 296.15,190.78 298.40,190.30 C300.65,189.82 303.23,188.75 305.20,187.20 C307.17,185.65 308.95,182.87 310.20,181.00 C311.45,179.13 311.58,178.78 312.70,176.00 C313.82,173.22 315.58,168.38 316.90,164.30 C318.22,160.22 319.40,155.38 320.60,151.50 C321.80,147.62 323.52,142.75 324.10,141.00 L328.3,129.7 L332.7,127.9 L333.40,134.00 C333.52,136.80 333.82,143.80 334.10,150.80 C334.38,157.80 334.90,168.97 335.10,176.00 C335.30,183.03 335.08,185.33 335.30,193.00 C335.52,200.67 336.22,217.17 336.40,222.00" stroke="#55ab55" stroke-width="1.8"/>
<path d="M341.00,222.00 C341.00,217.50 341.00,202.50 341.00,195.00 C341.00,187.50 341.00,180.00 341.00,177.00" stroke="#4fa84f" stroke-width="1.3"/>
</g>
</g>
<!-- legend -->
<rect x="135.1" y="37.7" width="19.4" height="6.6" fill="#fff" stroke="#cdeafb" stroke-width="1"/>
<rect x="135.0" y="51.7" width="19.5" height="6.7" fill="url(#hp)" stroke="#f7aec0" stroke-width="0.85" stroke-dasharray="2,1"/>
<rect x="135.0" y="65.6" width="19.5" height="6.7" fill="url(#hg)" stroke="#a2e2a4" stroke-width="0.85" stroke-dasharray="2,1"/>
<g filter="url(#nf)">
<text x="159.3" y="45.5" font-size="13.6" textLength="114.4" lengthAdjust="spacingAndGlyphs">CT14HERA2NNLO</text>
<text x="159.3" y="59.5" font-size="13.6" textLength="30.4" lengthAdjust="spacingAndGlyphs">CT18</text>
<text x="159.3" y="73.5" font-size="13.6" textLength="39.0" lengthAdjust="spacingAndGlyphs">CT18Z</text>
<!-- title -->
<text x="92.5" y="31.7" font-size="13.6" textLength="50.4" lengthAdjust="spacingAndGlyphs">(s+s)/(u+</text>
<text x="143.8" y="31.7" font-size="13.6" textLength="149.3" lengthAdjust="spacingAndGlyphs">d) at Q =2.0 GeV 90%C.L.</text>
<g stroke="#222" stroke-width="0.7">
<path d="M110,22.3 h5.2 M128.4,24.0 h6.9 M143.7,22.8 h6.8"/>
</g>
</g>
<!-- frame -->
<g stroke="#000" stroke-width="1.3" fill="none">
<path d="M42.80,219.50 v-4.2 M42.80,9.80 v4.2"/>
<path d="M54.69,219.50 v-4.2 M54.69,9.80 v4.2"/>
<path d="M73.53,219.50 v-4.2 M73.53,9.80 v4.2"/>
<path d="M103.38,219.50 v-4.2 M103.38,9.80 v4.2"/>
<path d="M150.71,219.50 v-4.2 M150.71,9.80 v4.2"/>
<path d="M225.71,219.50 v-4.2 M225.71,9.80 v4.2"/>
<path d="M255.93,219.50 v-4.2 M255.93,9.80 v4.2"/>
<path d="M302.88,219.50 v-4.2 M302.88,9.80 v4.2"/>
<path d="M337.86,219.50 v-4.2 M337.86,9.80 v4.2"/>
<path d="M59.48,219.50 v-2.0 M59.48,9.80 v2.0"/>
<path d="M62.60,219.50 v-2.0 M62.60,9.80 v2.0"/>
<path d="M64.98,219.50 v-2.0 M64.98,9.80 v2.0"/>
<path d="M66.92,219.50 v-2.0 M66.92,9.80 v2.0"/>
<path d="M68.57,219.50 v-2.0 M68.57,9.80 v2.0"/>
<path d="M70.01,219.50 v-2.0 M70.01,9.80 v2.0"/>
<path d="M71.30,219.50 v-2.0 M71.30,9.80 v2.0"/>
<path d="M72.46,219.50 v-2.0 M72.46,9.80 v2.0"/>
<path d="M81.12,219.50 v-2.0 M81.12,9.80 v2.0"/>
<path d="M86.07,219.50 v-2.0 M86.07,9.80 v2.0"/>
<path d="M89.84,219.50 v-2.0 M89.84,9.80 v2.0"/>
<path d="M92.91,219.50 v-2.0 M92.91,9.80 v2.0"/>
<path d="M95.53,219.50 v-2.0 M95.53,9.80 v2.0"/>
<path d="M97.81,219.50 v-2.0 M97.81,9.80 v2.0"/>
<path d="M99.85,219.50 v-2.0 M99.85,9.80 v2.0"/>
<path d="M101.70,219.50 v-2.0 M101.70,9.80 v2.0"/>
<path d="M115.42,219.50 v-2.0 M115.42,9.80 v2.0"/>
<path d="M123.27,219.50 v-2.0 M123.27,9.80 v2.0"/>
<path d="M129.24,219.50 v-2.0 M129.24,9.80 v2.0"/>
<path d="M134.11,219.50 v-2.0 M134.11,9.80 v2.0"/>
<path d="M138.25,219.50 v-2.0 M138.25,9.80 v2.0"/>
<path d="M141.88,219.50 v-2.0 M141.88,9.80 v2.0"/>
<path d="M145.11,219.50 v-2.0 M145.11,9.80 v2.0"/>
<path d="M148.03,219.50 v-2.0 M148.03,9.80 v2.0"/>
<path d="M169.77,219.50 v-2.0 M169.77,9.80 v2.0"/>
<path d="M182.22,219.50 v-2.0 M182.22,9.80 v2.0"/>
<path d="M191.68,219.50 v-2.0 M191.68,9.80 v2.0"/>
<path d="M199.40,219.50 v-2.0 M199.40,9.80 v2.0"/>
<path d="M205.97,219.50 v-2.0 M205.97,9.80 v2.0"/>
<path d="M211.72,219.50 v-2.0 M211.72,9.80 v2.0"/>
<path d="M216.84,219.50 v-2.0 M216.84,9.80 v2.0"/>
<path d="M221.47,219.50 v-2.0 M221.47,9.80 v2.0"/>
<path d="M275.65,219.50 v-2.0 M275.65,9.80 v2.0"/>
<path d="M290.64,219.50 v-2.0 M290.64,9.80 v2.0"/>
<path d="M313.29,219.50 v-2.0 M313.29,9.80 v2.0"/>
<path d="M322.40,219.50 v-2.0 M322.40,9.80 v2.0"/>
<path d="M330.52,219.50 v-2.0 M330.52,9.80 v2.0"/>
<path d="M42.80,219.50 h4.3 M342.80,219.50 h-4.3"/>
<path d="M42.80,209.01 h2.3 M342.80,209.01 h-2.3"/>
<path d="M42.80,198.53 h2.3 M342.80,198.53 h-2.3"/>
<path d="M42.80,188.05 h2.3 M342.80,188.05 h-2.3"/>
<path d="M42.80,177.56 h2.3 M342.80,177.56 h-2.3"/>
<path d="M42.80,167.07 h4.3 M342.80,167.07 h-4.3"/>
<path d="M42.80,156.59 h2.3 M342.80,156.59 h-2.3"/>
<path d="M42.80,146.11 h2.3 M342.80,146.11 h-2.3"/>
<path d="M42.80,135.62 h2.3 M342.80,135.62 h-2.3"/>
<path d="M42.80,125.14 h2.3 M342.80,125.14 h-2.3"/>
<path d="M42.80,114.65 h4.3 M342.80,114.65 h-4.3"/>
<path d="M42.80,104.16 h2.3 M342.80,104.16 h-2.3"/>
<path d="M42.80,93.68 h2.3 M342.80,93.68 h-2.3"/>
<path d="M42.80,83.19 h2.3 M342.80,83.19 h-2.3"/>
<path d="M42.80,72.71 h2.3 M342.80,72.71 h-2.3"/>
<path d="M42.80,62.23 h4.3 M342.80,62.23 h-4.3"/>
<path d="M42.80,51.74 h2.3 M342.80,51.74 h-2.3"/>
<path d="M42.80,41.26 h2.3 M342.80,41.26 h-2.3"/>
<path d="M42.80,30.77 h2.3 M342.80,30.77 h-2.3"/>
<path d="M42.80,20.29 h2.3 M342.80,20.29 h-2.3"/>
<path d="M42.80,9.80 h4.3 M342.80,9.80 h-4.3"/>
</g>
<rect x="42.8" y="9.8" width="300" height="209.7" fill="none" stroke="#000" stroke-width="1.8"/>
<g filter="url(#nf)">
<!-- y labels -->
<g font-size="13.6" text-anchor="end">
<text x="38.6" y="14.8">2.0</text>
<text x="38.6" y="67.3">1.5</text>
<text x="38.6" y="119.8">1.0</text>
<text x="38.6" y="172.3">0.5</text>
<text x="38.6" y="224.6">0.0</text>
</g>
<text x="32.5" y="236.4" font-size="13.6">10<tspan dy="-7.0" font-size="10.5">-6</tspan></text>
<text x="62.8" y="236.4" font-size="13.6">10<tspan dy="-7.0" font-size="10.5">-4</tspan></text>
<text x="92.8" y="236.4" font-size="13.6">10<tspan dy="-7.0" font-size="10.5">-3</tspan></text>
<text x="139.8" y="236.4" font-size="13.6">10<tspan dy="-7.0" font-size="10.5">-2</tspan></text>
<text x="214.5" y="236.4" font-size="13.6">10<tspan dy="-7.0" font-size="10.5">-1</tspan></text>
<g font-size="13.6" text-anchor="middle">
<text x="255.8" y="234.9">0.2</text>
<text x="302.2" y="234.9">0.5</text>
<text x="337.6" y="234.9">0.9</text>
<text x="193.4" y="246.0">x</text>
</g>
<text transform="translate(15.2,149.6) rotate(-90)" font-size="13.6" textLength="69.6" lengthAdjust="spacingAndGlyphs">Flavor Ratio</text>
</g>
</svg>
</body></html>
